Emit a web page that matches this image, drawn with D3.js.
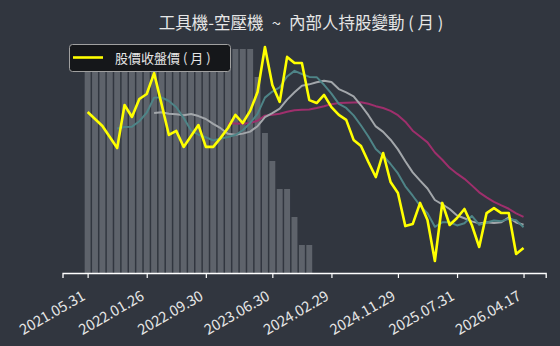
<!DOCTYPE html>
<html>
<head>
<meta charset="utf-8">
<script src="https://cdn.jsdelivr.net/npm/d3@7"></script>
<style>
    body { margin: 0; background: #31363f; }
    svg { display: block; font-family: "Noto Sans CJK TC", "Noto Sans", sans-serif; }
</style>
</head>
<body>
<svg id="chart" width="560" height="346"></svg>
<script>
// 月收盤價 (index 0 = 2021.05, index 59 = 2026.04)
let closePrice = [71.1, 68.0, 64.9, 60.0, 55.1, 74.2, 68.9, 76.9, 79.1, 88.4,
    74.7, 60.9, 62.7, 55.6, 60.4, 65.3, 55.6, 55.6, 59.6, 64.0,
    69.8, 66.2, 71.6, 80.0, 100.0, 83.1, 75.6, 95.6, 92.9, 92.9,
    76.4, 75.1, 78.7, 73.3, 69.8, 67.6, 58.7, 56.0, 48.9, 42.2,
    52.9, 40.0, 35.1, 20.4, 21.3, 30.7, 23.1, 4.9, 30.7, 20.9,
    24.0, 28.0, 20.9, 11.1, 26.2, 28.4, 26.2, 26.2, 8.0, 10.7];

let ma5 = [null, null, null, null, 63.8, 64.4, 64.6, 67.0, 70.8, 77.5,
    77.6, 76.0, 73.2, 68.5, 62.9, 61.0, 59.9, 58.5, 59.3, 60.0,
    60.9, 63.0, 66.2, 70.3, 77.5, 80.2, 82.1, 86.9, 89.4, 88.0,
    86.7, 86.6, 83.2, 79.3, 74.7, 72.9, 69.6, 65.1, 60.2, 54.7,
    51.7, 48.0, 43.8, 38.1, 33.9, 29.5, 26.1, 20.1, 22.1, 22.1,
    20.7, 21.7, 24.9, 21.0, 22.0, 22.9, 22.6, 23.6, 23.0, 19.9];

let ma10 = [null, null, null, null, null, null, null, null, null, 70.7,
    71.0, 70.3, 70.1, 69.7, 70.2, 69.3, 68.0, 65.8, 63.9, 61.4,
    61.0, 61.5, 62.4, 64.8, 68.8, 70.6, 72.6, 76.6, 79.9, 82.8,
    83.4, 84.3, 85.0, 84.4, 81.3, 79.8, 78.1, 74.1, 69.7, 64.7,
    62.3, 58.8, 54.5, 49.2, 44.3, 40.6, 37.1, 32.0, 30.1, 28.0,
    25.1, 23.9, 22.5, 21.6, 22.1, 21.8, 22.1, 24.3, 22.0, 21.0];

let ma20 = [null, null, null, null, null, null, null, null, null, null,
    null, null, null, null, null, null, null, null, null, 66.1,
    66.0, 65.9, 66.2, 67.2, 69.5, 69.9, 70.3, 71.2, 71.9, 72.1,
    72.2, 72.9, 73.7, 74.6, 75.1, 75.2, 75.3, 75.4, 74.8, 73.7,
    72.9, 71.6, 69.7, 66.8, 62.8, 60.2, 57.6, 53.1, 49.9, 46.3,
    43.7, 41.4, 38.5, 35.4, 33.2, 31.2, 29.6, 28.1, 26.1, 24.5];

// 內部人持股 (柱狀)
let holding = [8, 8, 8, 8, 8, 8, 8, 8, 8, 8,
    8, 8, 8, 8, 8, 8, 8, 8, 8, 8,
    8, 8, 8, 7, 5, 4, 3, 3, 2, 1, 1];

let tickIndex = [0, 8, 16, 25, 33, 42, 50, 59];
let tickLabels = ['2021.05.31', '2022.01.26', '2022.09.30', '2023.06.30',
    '2024.02.29', '2024.11.29', '2025.07.31', '2026.04.17'];

let svg = d3.select('#chart');

let x = d3.scaleLinear().domain([-3.4, 62]).range([62.5, 545.7]);
let yPrice = d3.scaleLinear().domain([0, 100]).range([272, 47]);
let yHold = d3.scaleLinear().domain([0, 8]).range([273, 49]);
let barW = (x(1) - x(0)) * 0.8;

// bars
svg.append('g')
    .selectAll('rect')
    .data(holding)
    .join('rect')
    .attr('x', (d, i) => x(i) - barW / 2)
    .attr('y', d => yHold(d))
    .attr('width', barW)
    .attr('height', d => yHold(0) - yHold(d))
    .style('fill', '#5e636b');

function drawLine(values, color, width) {
    let line = d3.line()
        .defined(d => d != null)
        .x((d, i) => x(i))
        .y(d => yPrice(d));
    svg.append('path')
        .datum(values)
        .attr('d', line)
        .style('fill', 'none')
        .style('stroke', color)
        .style('stroke-width', width)
        .style('stroke-linejoin', 'round');
}

drawLine(ma20, '#9e2f6c', 2);
drawLine(ma10, '#a3a7ab', 2);
drawLine(ma5, '#4e8487', 2);
drawLine(closePrice, '#ffff00', 2.6);

// x axis
let axis = d3.axisBottom(x)
    .tickValues(tickIndex)
    .tickFormat((d, i) => tickLabels[i])
    .tickSizeOuter(0)
    .tickSize(5);

let gx = svg.append('g')
    .attr('transform', 'translate(0,273)')
    .call(axis);
gx.select('.domain').style('stroke', '#ffffff').style('stroke-width', 1.3);
gx.selectAll('.tick line').style('stroke', '#ffffff').style('stroke-width', 1.2);
gx.selectAll('.tick text')
    .style('fill', '#e6e6e6')
    .style('font-size', '14.5px')
    .style('font-family', '"Noto Sans CJK TC", sans-serif')
    .attr('text-anchor', 'end')
    .attr('y', 0)
    .attr('dy', 0)
    .attr('transform', 'translate(-2,26) rotate(-30)');

// title
svg.append('text')
    .attr('x', 301)
    .attr('y', 29)
    .attr('text-anchor', 'middle')
    .style('fill', '#e6e6e6')
    .style('font-size', '16.5px')
    .text('工具機-空壓機\u2002~\u2002內部人持股變動 ( 月 )');

// legend
let legend = svg.append('g');
legend.append('rect')
    .attr('x', 69.5)
    .attr('y', 44.5)
    .attr('width', 161)
    .attr('height', 27)
    .attr('rx', 3)
    .style('fill', '#15171a')
    .style('stroke', '#a0a0a0')
    .style('stroke-width', 1);
legend.append('line')
    .attr('x1', 73)
    .attr('x2', 103)
    .attr('y1', 57.5)
    .attr('y2', 57.5)
    .style('stroke', '#ffff00')
    .style('stroke-width', 2.6);
legend.append('text')
    .attr('x', 115)
    .attr('y', 62.5)
    .style('fill', '#e6e6e6')
    .style('font-size', '13px')
    .text('股價收盤價 ( 月 )');
</script>
</body>
</html>
